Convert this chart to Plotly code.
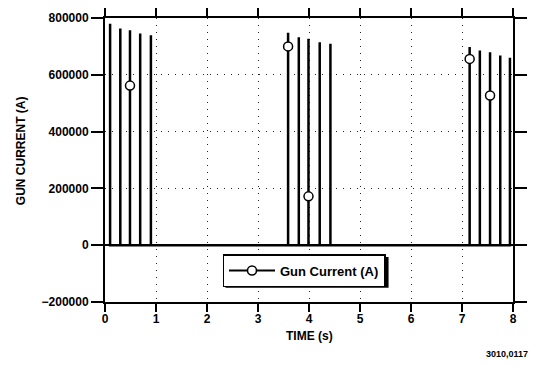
import plotly.graph_objects as go

# ---- data ----
spike_times = [0.10, 0.30, 0.49, 0.69, 0.90,
               3.59, 3.80, 3.99, 4.21, 4.42,
               7.15, 7.35, 7.55, 7.75, 7.94]
spike_peaks = [780000, 763000, 757000, 745000, 739000,
               748000, 732000, 727000, 715000, 709000,
               698000, 686000, 679000, 668000, 660000]
marker_times = [0.49, 3.59, 3.99, 7.15, 7.55]
marker_values = [562000, 700000, 172000, 656000, 527000]
x_ticks = [0, 1, 2, 3, 4, 5, 6, 7, 8]
y_ticks = [-200000, 0, 200000, 400000, 600000, 800000]
series_name = "Gun Current (A)"

FONT = "Liberation Sans, Arial, sans-serif"

# build the pulse line: each spike rises from 0 to its peak and back
line_x, line_y = [], []
for t, p in zip(spike_times, spike_peaks):
    line_x += [t, t, t]
    line_y += [0, p, 0]

fig = go.Figure()
fig.add_trace(go.Scatter(x=line_x, y=line_y, mode="lines",
                         line=dict(color="black", width=2.5),
                         showlegend=False, hoverinfo="skip"))
fig.add_trace(go.Scatter(x=marker_times, y=marker_values, mode="markers",
                         marker=dict(symbol="circle", size=9, color="white",
                                     line=dict(color="black", width=1.5)),
                         showlegend=False))
# legend entry
fig.add_trace(go.Scatter(x=[None], y=[None], mode="lines+markers", name=series_name,
                         line=dict(color="black", width=2),
                         marker=dict(symbol="circle", size=9, color="white",
                                     line=dict(color="black", width=1.5))))

common_x = dict(range=[0, 8], tickvals=x_ticks, linecolor="black", linewidth=2,
                tickcolor="black", tickwidth=1.5, showline=True, zeroline=False,
                automargin=False)
common_y = dict(range=[-200000, 800000], tickvals=y_ticks, linecolor="black", linewidth=2,
                tickcolor="black", tickwidth=1.5, showline=True, automargin=False)

fig.update_layout(
    width=531, height=358,
    margin=dict(l=97, r=26, t=10, b=64, pad=0),
    paper_bgcolor="white", plot_bgcolor="white",
    font=dict(family=FONT, color="black", size=12, weight="bold"),
    xaxis=dict(**common_x, ticks="outside", ticklen=8, mirror="ticks",
               showgrid=True, gridcolor="#222", gridwidth=1, griddash="1px,6px",
               ticklabelstandoff=-3,
               tickfont=dict(size=12, family=FONT, weight="bold")),
    xaxis2=dict(**common_x, overlaying="x", ticks="inside", ticklen=12, mirror="ticks",
                showgrid=False, showticklabels=False),
    yaxis=dict(**common_y, ticks="outside", ticklen=12, mirror="ticks",
               showgrid=True, gridcolor="#222", gridwidth=1, griddash="1px,6px",
               zeroline=True, zerolinecolor="black", zerolinewidth=2,
               tickformat="d", ticklabelstandoff=0,
               tickfont=dict(size=12, family=FONT, weight="bold")),
    yaxis2=dict(**common_y, overlaying="y", ticks="inside", ticklen=12, mirror="ticks",
                showgrid=False, showticklabels=False, zeroline=False),
    legend=dict(x=0.288, y=0.169, xanchor="left", yanchor="top",
                bgcolor="white", bordercolor="black", borderwidth=1.5,
                itemwidth=46,
                font=dict(family=FONT, size=13, weight="bold")),
    shapes=[
        # drop shadow behind the legend box
        dict(type="rect", xref="paper", yref="paper", layer="above",
             x0=0.2953, x1=0.695, y0=0.050, y1=0.1587,
             fillcolor="black", line=dict(width=0)),
    ],
    annotations=[
        dict(text="GUN CURRENT (A)", xref="paper", yref="paper", x=-0.207, y=0.533,
             textangle=-90, showarrow=False, xanchor="center", yanchor="middle",
             font=dict(family=FONT, size=12, weight="bold")),
        dict(text="TIME (s)", xref="paper", yref="paper", x=0.5, y=-0.118,
             showarrow=False, xanchor="center", yanchor="middle",
             font=dict(family=FONT, size=12, weight="bold")),
        dict(text="3010,0117", xref="paper", yref="paper", x=1.042, y=-0.183,
             showarrow=False, xanchor="right", yanchor="middle",
             font=dict(family=FONT, size=9, weight="bold")),
    ],
)

fig.write_html("out.html")
